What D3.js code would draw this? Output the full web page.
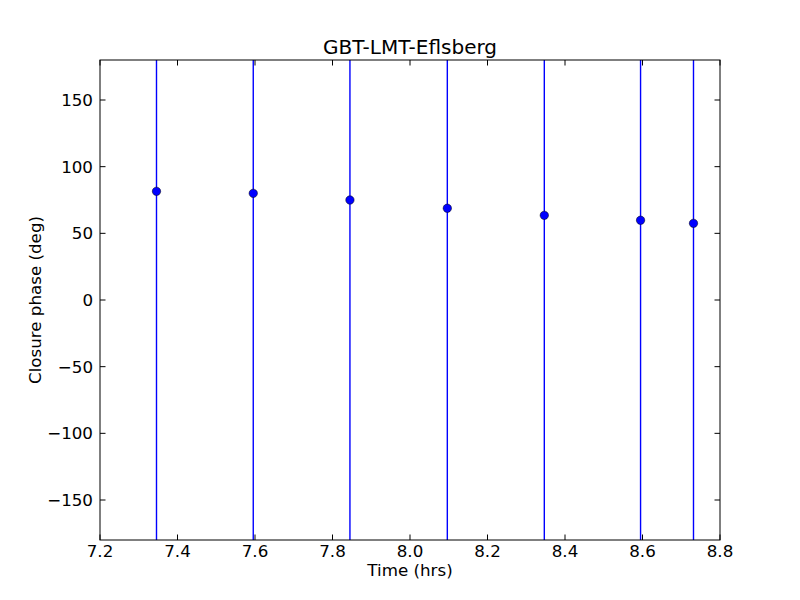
<!DOCTYPE html>
<html><head><meta charset="utf-8">
<script src="https://cdn.jsdelivr.net/npm/d3@7"></script>
<style>body{margin:0;background:#fff}text{font-family:"DejaVu Sans",sans-serif}</style>
</head><body>
<svg id="c" width="800" height="600"></svg>
<script>
const times = [7.3458, 7.5955, 7.845, 8.0963, 8.3466, 8.595, 8.7316];
const phases = [81.5, 80, 75, 68.8, 63.5, 59.8, 57.5];
const errors = [1000, 1000, 1000, 1000, 1000, 1000, 1000];
const xTicks = [7.2, 7.4, 7.6, 7.8, 8.0, 8.2, 8.4, 8.6, 8.8];
const yTicks = [-150, -100, -50, 0, 50, 100, 150];
const title = "GBT-LMT-Eflsberg";
const xLabel = "Time (hrs)";
const yLabel = "Closure phase (deg)";

const svg = d3.select("#c");
const L=100,R=720,T=60,B=540;
const x = d3.scaleLinear().domain([7.2,8.8]).range([L,R]);
const y = d3.scaleLinear().domain([-180,180]).range([B,T]);

svg.append("rect").attr("width",800).attr("height",600).attr("fill","#fff");
svg.append("clipPath").attr("id","clip").append("rect").attr("x",L).attr("y",T).attr("width",R-L).attr("height",B-T);

const g = svg.append("g").attr("clip-path","url(#clip)");
g.selectAll("line.err").data(times).join("line")
  .attr("x1",(d)=>x(d)).attr("x2",(d)=>x(d))
  .attr("y1",(d,i)=>y(phases[i]-errors[i])).attr("y2",(d,i)=>y(phases[i]+errors[i]))
  .attr("stroke","#0000ff").attr("stroke-width",1.4);
g.selectAll("circle").data(times).join("circle")
  .attr("cx",(d)=>x(d)).attr("cy",(d,i)=>y(phases[i])).attr("r",4.2)
  .attr("fill","#0000ff").attr("stroke","#000").attr("stroke-width",0.5);

const tl=5.5;
const fmtX = d3.format(".1f");
const ax = svg.append("g");
ax.selectAll("line.xb").data(xTicks).join("line").attr("x1",d=>x(d)).attr("x2",d=>x(d)).attr("y1",B).attr("y2",B-tl).attr("stroke","#000");
ax.selectAll("line.xt").data(xTicks).join("line").attr("class","xt").attr("x1",d=>x(d)).attr("x2",d=>x(d)).attr("y1",T).attr("y2",T+tl).attr("stroke","#000");
ax.selectAll("text.xl").data(xTicks).join("text").attr("class","xl").attr("x",d=>x(d)).attr("y",557).attr("text-anchor","middle").attr("font-size",16.7).text(d=>fmtX(d));
const ay = svg.append("g");
ay.selectAll("line.yl").data(yTicks).join("line").attr("x1",L).attr("x2",L+tl).attr("y1",d=>y(d)).attr("y2",d=>y(d)).attr("stroke","#000");
ay.selectAll("line.yr").data(yTicks).join("line").attr("class","yr").attr("x1",R).attr("x2",R-tl).attr("y1",d=>y(d)).attr("y2",d=>y(d)).attr("stroke","#000");
ay.selectAll("text.yt").data(yTicks).join("text").attr("class","yt").attr("x",L-7).attr("y",d=>y(d)+6).attr("text-anchor","end").attr("font-size",16.7).text(d=>d<0?"\u2212"+Math.abs(d):d);

svg.append("rect").attr("x",L).attr("y",T).attr("width",R-L).attr("height",B-T).attr("fill","none").attr("stroke","#000").attr("stroke-width",1);

svg.append("text").attr("x",(L+R)/2).attr("y",54).attr("text-anchor","middle").attr("font-size",20).text(title);
svg.append("text").attr("x",(L+R)/2).attr("y",576).attr("text-anchor","middle").attr("font-size",16.7).text(xLabel);
svg.append("text").attr("transform","translate(41,300) rotate(-90)").attr("text-anchor","middle").attr("font-size",16.7).text(yLabel);
</script>
</body></html>
